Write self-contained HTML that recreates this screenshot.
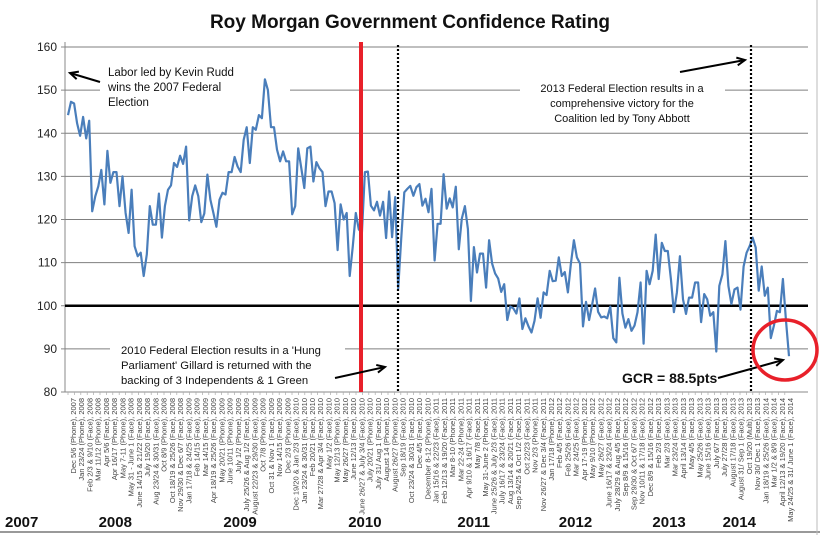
<!DOCTYPE html>
<html><head><meta charset="utf-8"><style>
body{margin:0;background:#fff;}
svg{display:block;font-family:"Liberation Sans",sans-serif;}
</style></head><body>
<svg id="chart" width="820" height="535" viewBox="0 0 820 535">
<rect x="0" y="0" width="820" height="535" fill="#fff"/>
<line x1="0" y1="532" x2="820" y2="532" stroke="#999" stroke-width="2"/>
<line x1="817" y1="0" x2="817" y2="535" stroke="#bbb" stroke-width="1"/>
<text x="410" y="28" text-anchor="middle" font-size="19" font-weight="bold" fill="#111">Roy Morgan Government Confidence Rating</text>
<g id="grid"></g>
<g id="yticks"></g>
<g id="xlabels"></g>
<g id="series"></g>
<g id="overlay"></g>
</svg>
<script>
const yTicks = [80, 90, 100, 110, 120, 130, 140, 150, 160];
const gcrValues = [144.2,147.3,146.9,142.3,139.4,143.8,138.8,142.9,121.9,125.4,127.7,131.5,123.5,135.9,128.5,131,131,123.1,130,121.5,116.9,126.9,113.8,111.5,112.3,106.9,111.9,123.1,118.8,118.8,126,115.8,123.1,126.9,127.9,133.1,132.2,134.8,132.9,136.9,119.8,125.4,127.9,125.4,119.4,121.4,130.4,124.6,121.5,118.3,124.6,126.2,125.8,131,131,134.5,132.3,131,138.5,141.4,133.1,141.4,140.8,144.2,143.5,152.5,150,141.4,141.4,136.2,133.5,135.8,133.5,133.5,121.2,123.1,136.5,131.9,127.3,136.5,136.9,128.8,133.3,131.9,131,123.1,126.5,126.5,123.8,112.9,123.5,120,121.5,106.9,113.8,121.5,117.7,116.9,131,
131.1,123.2,122.1,124.1,120.9,124.1,115.7,126.5,115.9,125.2,104,115.5,126.3,127.1,127.8,125.5,127.5,128.2,123.2,124.8,121.7,127.1,110.5,119,119,130.5,122.5,124.9,122.8,127.6,113.1,120.2,123.1,117.8,101.1,113.6,107.7,112.1,112.1,104.2,115.2,109.8,107.5,106.3,103.2,105,96.7,99.8,99.4,98.2,101.7,94.6,97.1,95.2,93.8,96.5,101.7,97.2,103.1,102.5,108.1,105.7,105.8,111.2,106.9,107.8,103.1,109.8,115.2,111.2,109.8,95.2,100.9,96.7,100.2,104,98.6,97.3,97.5,97.1,99.8,92.5,91.5,106.5,98.2,94.9,
96.9,94.2,95.4,98.5,105.4,91.2,108.1,105,108.1,116.5,106.2,114.6,112.7,112.7,106.2,98.5,103.1,111.5,101.5,98.1,101.9,101.9,105.4,105.4,96.2,102.7,101.5,97.7,98.5,89.4,104.6,107.3,115,104.6,100.4,103.8,104.2,99.1,109.1,112.3,113.8,115.8,113.5,103.5,109.1,102.3,104.2,92.5,95.4,98.8,98.5,106.2,96.5,88.3];
const pollLabels = ["Dec 5/6 (Phone), 2007","Jan 23/24 (Phone), 2008","Feb 2/3 & 9/10 (Face), 2008","Mar 11/12 (Phone), 2008","Apr 5/6 (Face), 2008","Apr 16/17 (Phone), 2008","May 7-11 (Phone), 2008","May 31 - June 1 (Face), 2008","June 14/15 & 21/22 (Face), 2008","July 19/20 (Face), 2008","Aug 23/24 & 30/31 (Face), 2008","Oct 8/9 (Phone), 2008","Oct 18/19 & 25/26 (Face), 2008","Nov 29/30 & Dec 6/7 (Face), 2008","Jan 17/18 & 24/25 (Face), 2009","Feb 14/15 (Face), 2009","Mar 14/15 (Face), 2009","Apr 18/19 & 25/26 (Face), 2009","May 20/21 (Phone), 2009","June 10/11 (Phone), 2009","July 1/2 (Phone), 2009","July 25/26 & Aug 1/2 (Face), 2009","August 22/23 & 29/30 (Face), 2009","Oct 7/8 (Phone), 2009","Oct 31 & Nov 1 (Face), 2009","Nov 14/15 (Face), 2009","Dec 2/3 (Phone), 2009","Dec 19/20 & Jan 2/3 (Face), 2010","Jan 23/24 & 30/31 (Face), 2010","Feb 20/21 (Face), 2010","Mar 27/28 & Apr 3/4 (Face), 2010","May 1/2 (Face), 2010","May 12/13 (Phone), 2010","May 26/27 (Phone), 2010","June 12/13 (Face), 2010","June 26/27 & July 3/4 (Face), 2010","July 20/21 (Phone), 2010","July 31/ Aug 1 (Face), 2010","August 14 (Phone), 2010","August 26/27 (Phone), 2010","Sep 18/19 (Face), 2010","Oct 23/24 & 30/31 (Face), 2010","Dec 4/5 (Face), 2010","December 8-12 (Phone), 2010","Jan 15/16 & 22/23 (Face), 2011","Feb 12/13 & 19/20 (Face), 2011","Mar 8-10 (Phone), 2011","Mar 22-24 (Phone), 2011","Apr 9/10 & 16/17 (Face), 2011","May 7/8 (Face), 2011","May 31-June 2 (Phone), 2011","June 25/26 & July 2/3 (Face), 2011","July 16/17 & 23/24 (Face), 2011","Aug 13/14 & 20/21 (Face), 2011","Sep 24/25 & Oct 1/2 (Face), 2011","Oct 22/23 (Face), 2011","Nov 2/3 (Phone), 2011","Nov 26/27 & Dec 3/4 (Face), 2011","Jan 17/18 (Phone), 2012","Feb 4/5 (Face), 2012","Feb 25/26 (Face), 2012","Mar 24/25 (Face), 2012","Apr 17-19 (Phone), 2012","May 9/10 (Phone), 2012","May 26/27 (Face), 2012","June 16/17 & 23/24 (Face), 2012","July 28/29 & Aug 4/5 (Face), 2012","Sep 8/9 & 15/16 (Face), 2012","Sep 29/30 & Oct 6/7 (Face), 2012","Nov 10/11 & 17/18 (Face), 2012","Dec 8/9 & 15/16 (Face), 2012","Feb 2/3 (Face), 2013","Mar 2/3 (Face), 2013","Mar 23/24 (Face), 2013","April 13/14 (Face), 2013","May 4/5 (Face), 2013","May 25/26 (Face), 2013","June 15/16 (Face), 2013","July 6/7 (Face), 2013","July 27/28 (Face), 2013","August 17/18 (Face), 2013","August 31/ Sep 1 (Face), 2013","Oct 19/20 (Multi), 2013","Nov 30/ Dec 1 (Face), 2013","Jan 18/19 & 25/26 (Face), 2014","Mar 1/2 & 8/9 (Face), 2014","April 12/13 & 19/20 (Face), 2014","May 24/25 & 31/ June 1 (Face), 2014"];
const yearLabels = ["2007","2008","2009","2010","2011","2012","2013","2014"];
const yearPos = [0.0, 0.12, 0.28, 0.44, 0.58, 0.71, 0.83, 0.92];

const NS="http://www.w3.org/2000/svg";
const PL=65, PR=808, PT=47, PB=392;
const XS=68, XE=789;
const yMin=80, yMax=160;
function yScale(v){return PB-(v-yMin)/(yMax-yMin)*(PB-PT);}
function xScale(i,n){return XS+i*(XE-XS)/(n-1);}
function mk(tag,attrs,parent){const e=document.createElementNS(NS,tag);for(const k in attrs)e.setAttribute(k,attrs[k]);parent.appendChild(e);return e;}

const grid=document.getElementById('grid');
const yt=document.getElementById('yticks');
mk('line',{x1:PL,y1:PT-5,x2:PL,y2:PB,stroke:'#888','stroke-width':1},grid);
yTicks.forEach(v=>{
  const y=yScale(v);
  if(v!==100&&v!==80){
    const l=mk('line',{x1:PL,y1:y,x2:PR,y2:y,stroke:'#7f7f7f','stroke-width':1},grid);
    
    
  }
  mk('line',{x1:PL-4,y1:y,x2:PL,y2:y,stroke:'#888'},grid);
  const t=mk('text',{x:PL-8,y:y+4,'text-anchor':'end','font-size':12,fill:'#222'},yt);
  t.textContent=v;
  
  
});
mk('line',{x1:PL,y1:PB,x2:PR,y2:PB,stroke:'#888'},grid);

const xl=document.getElementById('xlabels');
const nL=pollLabels.length;
for(let i=0;i<113;i++){mk('line',{x1:XS+i*6.4,y1:PB,x2:XS+i*6.4,y2:PB+3,stroke:'#aaa','stroke-width':0.7},xl);}
pollLabels.forEach((s,i)=>{
  const x=73+i*(790-73)/(nL-1);
  const t=mk('text',{transform:`translate(${x+3},${PB+6}) rotate(-90)`,'text-anchor':'end','font-size':7.5,fill:'#444'},xl);
  t.textContent=s;
  
  
});
yearLabels.forEach((s,i)=>{
  const x=5+yearPos[i]*780;
  const t=mk('text',{x:x,y:527,'font-size':15,'font-weight':'bold',fill:'#111'},xl);
  t.textContent=s;
  
  
});

const ov=document.getElementById('overlay');
function box(x,y,w,h){mk('rect',{x:x,y:y,width:w,height:h,fill:'#fff'},grid);}
box(100,60,190,50); box(520,76,205,52); box(110,340,235,50); box(615,362,95,22);

const sr=document.getElementById('series');
const thick=mk('line',{x1:PL,y1:yScale(100),x2:PR,y2:yScale(100),stroke:'#000','stroke-width':2.5},sr);


const n=gcrValues.length;
const d=gcrValues.map((v,i)=>(i?'L':'M')+xScale(i,n).toFixed(1)+','+yScale(v).toFixed(1)).join(' ');
const path=mk('path',{d:d,fill:'none',stroke:'#4a7ebb','stroke-width':2.2,'stroke-linejoin':'round'},sr);



const red=mk('line',{x1:361,y1:42,x2:361,y2:PB,stroke:'#e8202a','stroke-width':4},ov);


[398,751].forEach(x=>{
  const l=mk('line',{x1:x,y1:45,x2:x,y2:PB,stroke:'#000','stroke-width':2.2,'stroke-dasharray':'2 2'},ov);
  
  
});
function arrow(x1,y1,x2,y2){
  mk('line',{x1:x1,y1:y1,x2:x2,y2:y2,stroke:'#000','stroke-width':2},ov);
  const a=Math.atan2(y2-y1,x2-x1),L=9;
  const p=[[x2,y2],[x2-L*Math.cos(a-0.45),y2-L*Math.sin(a-0.45)],[x2-L*Math.cos(a+0.45),y2-L*Math.sin(a+0.45)]];
  mk('polyline',{points:`${p[1].join(',')} ${p[0].join(',')} ${p[2].join(',')}`,fill:'none',stroke:'#000','stroke-width':2},ov);
}
arrow(100,82,70,73);
arrow(680,72,745,60);
arrow(335,378,385,367);
arrow(718,378,783,360);
function lines(x,y,arr,anchor,name,size,bold){
  const t=mk('text',{x:x,y:y,'font-size':size,'text-anchor':anchor,fill:'#111','font-weight':bold?'bold':'normal'},ov);
  
  
  arr.forEach((s,i)=>{const ts=mk('tspan',{x:x,dy:i?15:0},t);ts.textContent=s;});
}
lines(108,76,["Labor led by Kevin Rudd","wins the 2007 Federal","Election"],'start','note-2007',11.5,false);
lines(622,92,["2013 Federal Election results in a","comprehensive victory for the","Coalition led  by Tony Abbott"],'middle','note-2013',11,false);
lines(121,354,["2010 Federal Election results in a 'Hung","Parliament' Gillard is returned with the","backing of 3 Independents & 1 Green"],'start','note-2010',11.3,false);
lines(622,383,["GCR = 88.5pts"],'start','gcr-callout',14,true);
const c=mk('ellipse',{cx:785,cy:350,rx:32,ry:30,fill:'none',stroke:'#e8202a','stroke-width':3.5},ov);


</script>
</body></html>
